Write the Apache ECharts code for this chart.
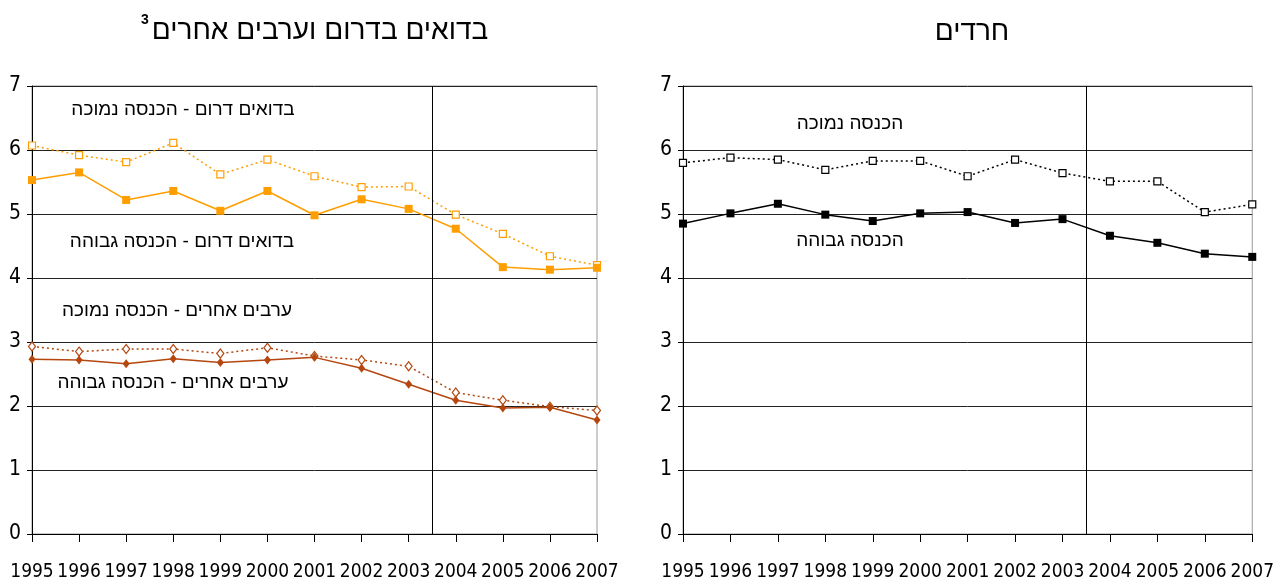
<!DOCTYPE html>
<html><head><meta charset="utf-8">
<script src="https://cdn.jsdelivr.net/npm/echarts@6/dist/echarts.min.js"></script>
<style>html,body{margin:0;padding:0;background:#fff}#c{width:1277px;height:582px}</style>
</head><body><div id="c"></div>
<script>
const years = [1995,1996,1997,1998,1999,2000,2001,2002,2003,2004,2005,2006,2007];
const yTicks = [0,1,2,3,4,5,6,7];
const bedouinLow  = [6.07,5.92,5.81,6.11,5.62,5.85,5.59,5.42,5.43,4.99,4.69,4.34,4.20];
const bedouinHigh = [5.53,5.65,5.22,5.36,5.05,5.36,4.98,5.23,5.08,4.77,4.17,4.13,4.16];
const arabLow     = [2.93,2.85,2.89,2.89,2.82,2.91,2.78,2.72,2.62,2.21,2.09,1.99,1.93];
const arabHigh    = [2.73,2.72,2.66,2.74,2.68,2.72,2.76,2.59,2.34,2.09,1.97,1.98,1.78];
const harediLow   = [5.80,5.88,5.85,5.69,5.83,5.83,5.59,5.85,5.64,5.51,5.51,5.03,5.15];
const harediHigh  = [4.85,5.01,5.16,4.99,4.89,5.01,5.03,4.86,4.92,4.66,4.55,4.38,4.33];
const splitYear = 2003.5;

const titleLeft = 'בדואים בדרום וערבים אחרים';
const titleRight = 'חרדים';
const lblBedLow = 'בדואים דרום - הכנסה נמוכה';
const lblBedHigh = 'בדואים דרום - הכנסה גבוהה';
const lblArabLow = 'ערבים אחרים - הכנסה נמוכה';
const lblArabHigh = 'ערבים אחרים - הכנסה גבוהה';
const lblHarLow = 'הכנסה נמוכה';
const lblHarHigh = 'הכנסה גבוהה';

const ORANGE = '#FF9E00', BROWN = '#B5470E', BLACK = '#000';
const numFont = "'DejaVu Sans','Liberation Sans',sans-serif";
const hebFont = "'Liberation Sans','DejaVu Sans',sans-serif";

const pts = v => years.map((y,i)=>[y, v[i]]);

function xAx(gi){
  return {type:'value', gridIndex:gi, min:years[0], max:years[years.length-1], interval:1,
    axisLine:{lineStyle:{color:'#000',width:1}},
    axisTick:{show:true,length:8,lineStyle:{color:'#000'}},
    axisLabel:{color:'#000',fontSize:19,fontWeight:'condensed',fontFamily:numFont,margin:29,
      showMinLabel:true,showMaxLabel:true,hideOverlap:false,formatter:v=>String(v)},
    splitLine:{show:false}};
}
function yAx(gi){
  return {type:'value', gridIndex:gi, min:yTicks[0], max:yTicks[yTicks.length-1], interval:1,
    axisLine:{show:true,lineStyle:{color:'#000',width:1}},
    axisTick:{show:true,length:5,lineStyle:{color:'#000'}},
    axisLabel:{color:'#000',fontSize:21,fontWeight:'condensed',fontFamily:numFont,margin:11},
    splitLine:{show:true,lineStyle:{color:'#222',width:1}}};
}
function ser(gi, data, color, dotted, symbol, hollow, size, extra){
  const s = {type:'line', xAxisIndex:gi, yAxisIndex:gi, data:pts(data), symbol:symbol,
    symbolSize:size, showSymbol:true, animation:false, z: dotted?3:4,
    lineStyle:{color:color, width:1.5, type: dotted ? [2,3] : 'solid'},
    itemStyle: hollow ? {color:'#fff', borderColor:color, borderWidth:1.2} : {color:color, borderColor:color, borderWidth:0}};
  return Object.assign(s, extra||{});
}
const vline = {markLine:{silent:true, symbol:'none', label:{show:false},
  lineStyle:{color:'#000',width:1,type:'solid'}, data:[{xAxis:splitYear}]}};

function txt(x,y,text,size){
  return {type:'text', x:x, y:y, style:{text:text, font:size+"px "+hebFont, fill:'#000', textAlign:'center', textVerticalAlign:'middle'}};
}

const chart = echarts.init(document.getElementById('c'), null, {renderer:'canvas'});
chart.setOption({
  animation:false,
  backgroundColor:'#fff',
  grid:[
    {left:32, top:86, width:565, height:448, show:true, borderColor:'#999', borderWidth:1},
    {left:683, top:86, width:575, height:448, show:true, borderColor:'#999', borderWidth:1}
  ],
  xAxis:[xAx(0), xAx(1)],
  yAxis:[yAx(0), yAx(1)],
  series:[
    ser(0, bedouinLow, ORANGE, true, 'rect', true, 7, vline),
    ser(0, bedouinHigh, ORANGE, false, 'rect', false, 8),
    ser(0, arabLow, BROWN, true, 'diamond', true, [7,9]),
    ser(0, arabHigh, BROWN, false, 'diamond', false, [7,9]),
    ser(1, harediLow, BLACK, true, 'rect', true, 7, vline),
    ser(1, harediHigh, BLACK, false, 'rect', false, 8)
  ],
  graphic:[
    txt(320,31,titleLeft,28),
    {type:'text', x:145, y:20, style:{text:'3', font:"bold 14px "+hebFont, fill:'#000', textAlign:'center', textVerticalAlign:'middle'}},
    txt(972,32,titleRight,28),
    txt(183,110,lblBedLow,19),
    txt(182,242,lblBedHigh,19),
    txt(177,311,lblArabLow,19),
    txt(173,383,lblArabHigh,19),
    txt(850,124,lblHarLow,19),
    txt(850,241,lblHarHigh,19)
  ]
});
</script></body></html>
